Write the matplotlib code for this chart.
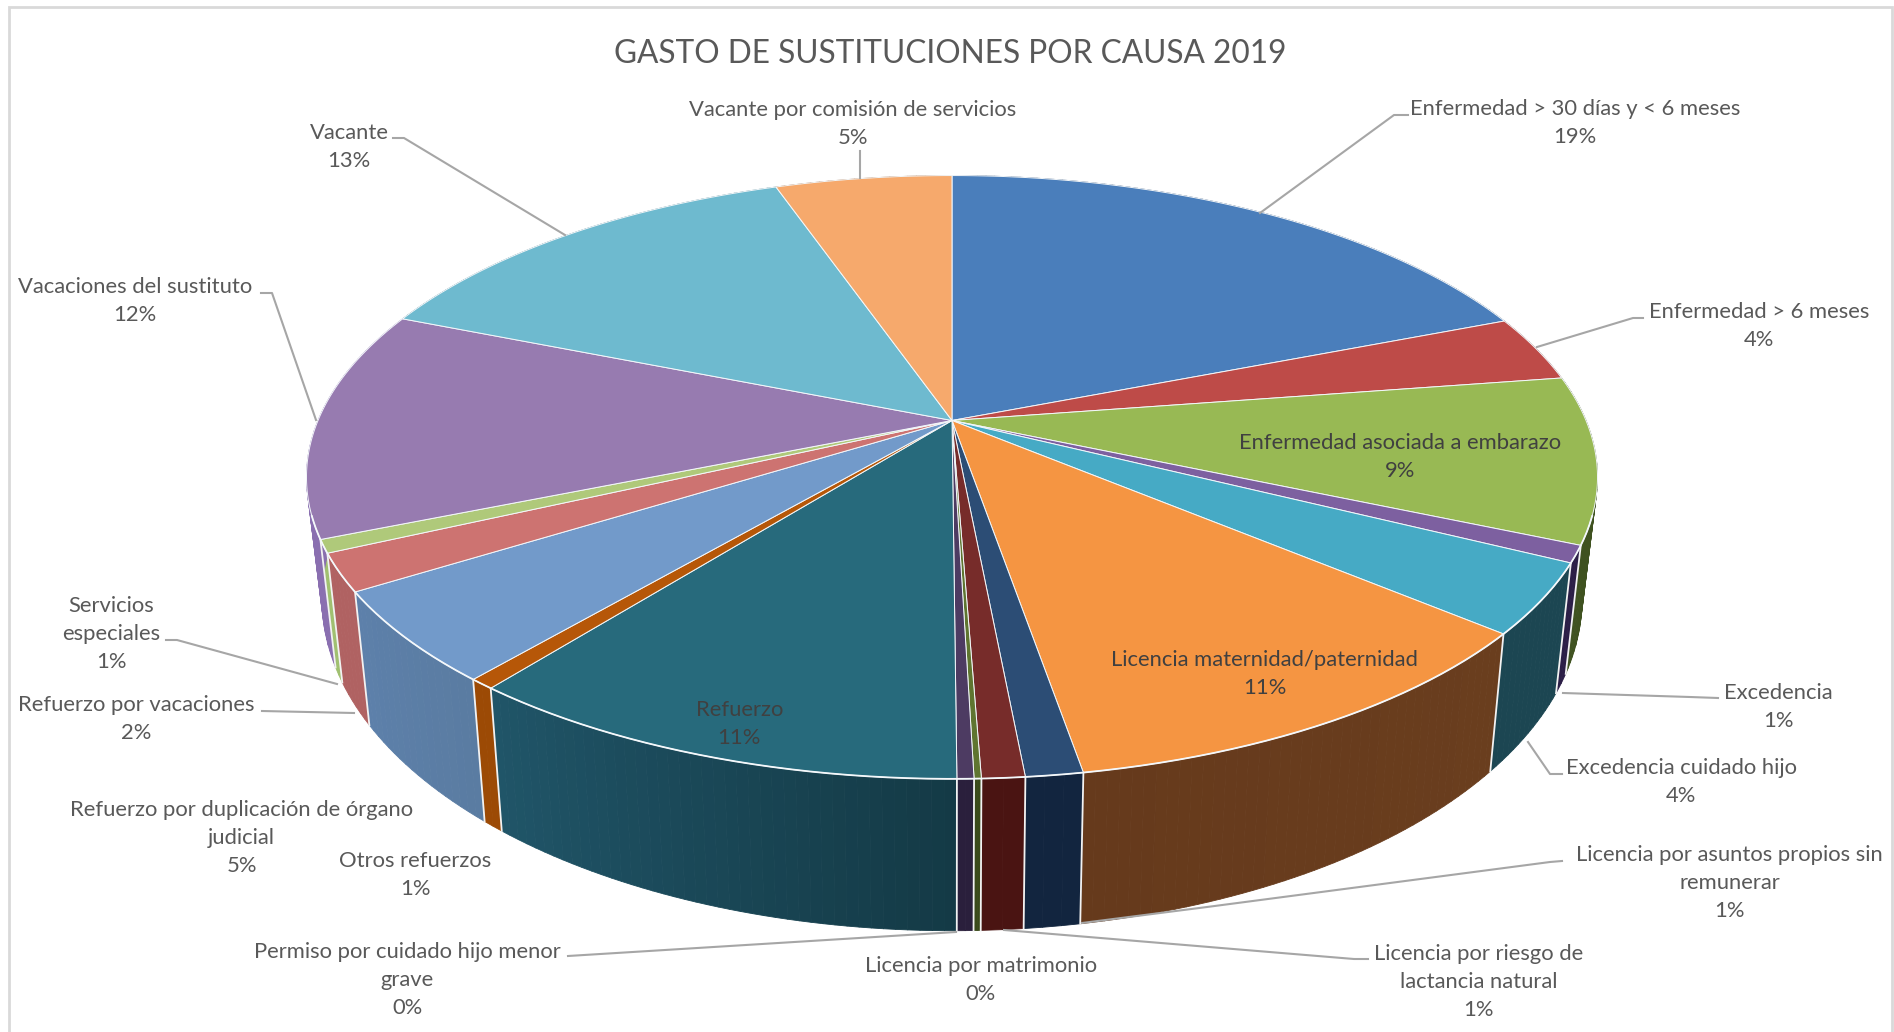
import numpy as np
import matplotlib
matplotlib.use("Agg")
import matplotlib.pyplot as plt
from matplotlib.collections import PolyCollection
from matplotlib.colors import to_rgb
from matplotlib.patches import Rectangle

plt.rcParams['font.family'] = ['Lato', 'DejaVu Sans']

TITLE = "GASTO DE SUSTITUCIONES POR CAUSA 2019"
categories = ["Enfermedad > 30 días y < 6 meses", "Enfermedad > 6 meses",
              "Enfermedad asociada a embarazo", "Excedencia", "Excedencia cuidado hijo",
              "Licencia maternidad/paternidad", "Licencia por asuntos propios sin\nremunerar",
              "Licencia por riesgo de\nlactancia natural", "Licencia por matrimonio",
              "Permiso por cuidado hijo menor\ngrave", "Refuerzo", "Otros refuerzos",
              "Refuerzo por duplicación de órgano\njudicial", "Refuerzo por vacaciones",
              "Servicios\nespeciales", "Vacaciones del sustituto", "Vacante",
              "Vacante por comisión de servicios"]
values = [19.05, 3.55, 8.9, 0.9, 3.75, 11.15, 1.2, 0.9, 0.15, 0.35, 10.75, 0.55, 4.9, 2.0,
          0.7, 12.3, 13.6, 5.3]
pct_labels = ["19%", "4%", "9%", "1%", "4%", "11%", "1%", "1%", "0%", "0%", "11%", "1%",
              "5%", "2%", "1%", "12%", "13%", "5%"]
top_colors = ["#4a7ebb", "#be4b48", "#98b954", "#7d60a0", "#46aac5", "#f59542", "#2c4d75",
              "#772c2a", "#5f7530", "#4d3b62", "#276a7c", "#b65708", "#729aca", "#cd7371",
              "#afc97a", "#977bb0", "#6ebacf", "#f6a96c"]
# wall colours: first at the clockwise start of the slice, second at its end
wall_start = ["#2c4a70", "#70302c", "#3f5220", "#2c1f47", "#1c4652", "#6a3e1e", "#12253f",
              "#4a1412", "#3a4a1a", "#2a1f3c", "#143a46", "#9c4a05", "#5a7ca2", "#b06262",
              "#a0c070", "#8a6fb0", "#4a8090", "#a06030"]
wall_end = ["#2c4a70", "#70302c", "#3f5220", "#2c1f47", "#1c4652", "#663a1c", "#12253f",
            "#4a1412", "#3a4a1a", "#2a1f3c", "#205568", "#9c4a05", "#5d80aa", "#b06262",
            "#a0c070", "#8a6fb0", "#4a8090", "#a06030"]
# label block centres, in pixels of the 1568-wide view
label_x = [1304, 1456, 1159, 1472, 1392, 1047, 1432, 1224, 812, 337, 612, 344, 200, 113, 92,
           112, 289, 706]
label_y = [102, 270, 378, 585, 647, 558, 731, 813, 811, 811, 599, 724, 694, 595, 525, 249,
           122, 103]
inside = {2, 5, 10}
# leader lines in full-size pixels
leaders = [[(1408, 115), (1394, 115), (1260, 213)],
           [(1643, 318), (1633, 318), (1537, 347)],
           [(1718, 698), (1690, 697), (1563, 693)],
           [(1562, 774), (1550, 774), (1528, 742)],
           [(1562, 861), (1550, 862), (1207, 907), (1082, 923)],
           [(1368, 959), (1354, 959), (1004, 930)],
           [(568, 956), (956, 932)],
           [(262, 711), (354, 713)],
           [(166, 640), (177, 640), (337, 684)],
           [(261, 293), (272, 293), (316, 420)],
           [(393, 138), (404, 138), (565, 235)],
           [(860, 151), (860, 178)]]

W, H = 1894, 1032
S = W / 1568
CX, CY, R, K, Q = 952.0, 420.5, 634.0, 291.0, 0.188
XS, YS, DROP = 0.976, 1.10, 116.0


def project(theta, bottom=False):
    X, Y = np.sin(theta), -np.cos(theta)
    w = 1 - Q * Y
    px, py = R * X / w, K * Y / w
    if bottom:
        px, py = XS * px, DROP + YS * py
    return CX + px, CY + py


fig = plt.figure(figsize=(W / 100, H / 100), dpi=100, facecolor="white")
ax = fig.add_axes([0, 0, 1, 1])
ax.set_xlim(0, W)
ax.set_ylim(H, 0)
ax.axis("off")

ax.add_patch(Rectangle((9, 7), W - 11, H + 20, fc="white", ec="#d9d9d9", lw=2))

edges = np.cumsum([0] + values) / sum(values) * 2 * np.pi

# side walls, gradient along the arc
for i in range(len(values)):
    th = np.linspace(edges[i], edges[i + 1], max(3, int(values[i] * 4)))
    c0, c1 = np.array(to_rgb(wall_start[i])), np.array(to_rgb(wall_end[i]))
    tx, ty = project(th)
    bx, by = project(th, True)
    polys, cols = [], []
    for j in range(len(th) - 1):
        polys.append([(tx[j], ty[j]), (tx[j + 1], ty[j + 1]), (bx[j + 1], by[j + 1]), (bx[j], by[j])])
        cols.append(c0 + (c1 - c0) * j / max(1, len(th) - 2))
    ax.add_collection(PolyCollection(polys, facecolors=cols, edgecolors=cols, linewidths=0.6, zorder=2))

# seams between front walls
for e in edges:
    if np.radians(110) < e < np.radians(250):
        tx, ty = project(e)
        bx, by = project(e, True)
        ax.plot([tx, bx], [ty, by], color="#f2f2f2", lw=1.3, zorder=3)

# top faces
for i in range(len(values)):
    th = np.linspace(edges[i], edges[i + 1], max(4, int(values[i] * 8)))
    tx, ty = project(th)
    ax.fill(np.r_[CX, tx], np.r_[CY, ty], facecolor=top_colors[i], edgecolor="#f4f8fb", lw=0.7,
            joinstyle="round", zorder=4)

# bright rim along the front edge
th = np.radians(np.linspace(108, 252, 200))
tx, ty = project(th)
ax.plot(tx, ty, color="#f4f8fb", lw=1.3, zorder=5)

for pts in leaders:
    xs, ys = zip(*pts)
    ax.plot(xs, ys, color="#a6a6a6", lw=1.5, zorder=6, solid_joinstyle="round")

ax.text(787 * S, 44.5 * S, TITLE, color="#595959", fontsize=22.8, ha="center", va="center", zorder=8)
for i, name in enumerate(categories):
    color = "#404040" if i in inside else "#595959"
    ax.text(label_x[i] * S, label_y[i] * S, name + "\n" + pct_labels[i], color=color, fontsize=15.85,
            ha="center", va="center", linespacing=1.5, zorder=8)

fig.savefig("out.png", dpi=100, facecolor="white")
